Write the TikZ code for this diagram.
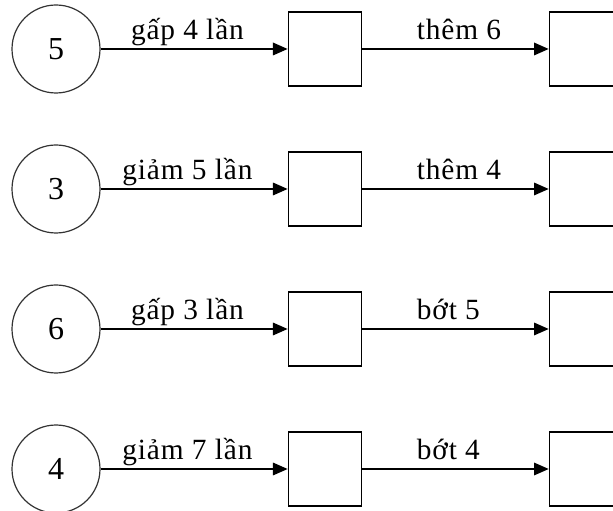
\documentclass[tikz,border=0pt]{standalone}
\usepackage{fontspec}
\setmainfont{Liberation Serif}
\usetikzlibrary{arrows.meta,positioning}
\tikzset{
  numcircle/.style={draw=black!80, circle, minimum size=66pt, inner sep=0pt, line width=0.9pt, font=\fontsize{24}{26}\selectfont},
  ansbox/.style={draw, rectangle, minimum width=54.75pt, minimum height=55.5pt, line width=0.8pt},
  opline/.style={-{Triangle[length=11pt,width=9.5pt]}, line width=0.9pt},
  oplabel/.style={midway, anchor=base, xshift=-5pt, yshift=7pt, inner sep=0pt, font=\fontsize{22}{24}\selectfont\addfontfeatures{LetterSpace=3}},
  oplabelleft/.style={pos=0, anchor=base west, xshift=41pt, yshift=7pt, inner sep=0pt, font=\fontsize{22}{24}\selectfont\addfontfeatures{LetterSpace=3}}
}
\begin{document}
\begin{tikzpicture}[x=0.75pt,y=0.75pt,node distance=140.25pt]
\useasboundingbox (0,0) rectangle (613,510);
% row 1
\node[numcircle] (c1) at (56,461) {5};
\node[ansbox, right=of c1] (b1) {};
\node[ansbox, right=of b1] (d1) {};
\draw[opline] (c1) -- node[oplabel] {gấp 4 lần} (b1);
\draw[opline] (b1) -- node[oplabelleft] {thêm 6} (d1);
% row 2
\node[numcircle] (c2) at (56,321) {3};
\node[ansbox, right=of c2] (b2) {};
\node[ansbox, right=of b2] (d2) {};
\draw[opline] (c2) -- node[oplabel] {giảm 5 lần} (b2);
\draw[opline] (b2) -- node[oplabelleft] {thêm 4} (d2);
% row 3
\node[numcircle] (c3) at (56,181) {6};
\node[ansbox, right=of c3] (b3) {};
\node[ansbox, right=of b3] (d3) {};
\draw[opline] (c3) -- node[oplabel] {gấp 3 lần} (b3);
\draw[opline] (b3) -- node[oplabelleft] {bớt 5} (d3);
% row 4
\node[numcircle] (c4) at (56,41) {4};
\node[ansbox, right=of c4] (b4) {};
\node[ansbox, right=of b4] (d4) {};
\draw[opline] (c4) -- node[oplabel] {giảm 7 lần} (b4);
\draw[opline] (b4) -- node[oplabelleft] {bớt 4} (d4);
\end{tikzpicture}
\end{document}
